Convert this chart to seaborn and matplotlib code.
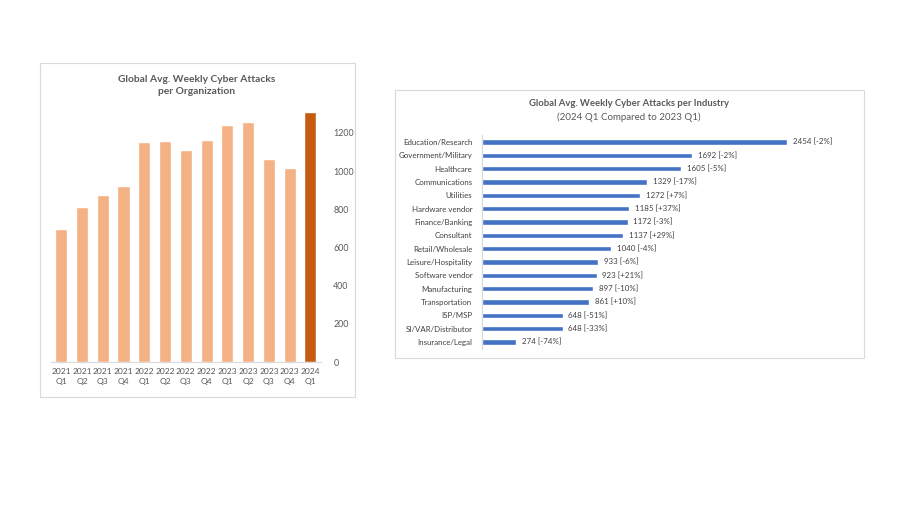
import matplotlib
matplotlib.use("Agg")
import matplotlib.pyplot as plt
from matplotlib.patches import Rectangle
import seaborn as sns
import pandas as pd

# left chart: avg weekly attacks per organization
quarters = ["2021\nQ1", "2021\nQ2", "2021\nQ3", "2021\nQ4", "2022\nQ1", "2022\nQ2", "2022\nQ3",
            "2022\nQ4", "2023\nQ1", "2023\nQ2", "2023\nQ3", "2023\nQ4", "2024\nQ1"]
org_attacks = [697, 811, 877, 924, 1153, 1157, 1110, 1164, 1242, 1255, 1066, 1014, 1308]
org_ticks = [0, 200, 400, 600, 800, 1000, 1200]

# right chart: per industry
industries = ["Education/Research", "Government/Military", "Healthcare", "Communications", "Utilities",
              "Hardware vendor", "Finance/Banking", "Consultant", "Retail/Wholesale", "Leisure/Hospitality",
              "Software vendor", "Manufacturing", "Transportation", "ISP/MSP", "SI/VAR/Distributor",
              "Insurance/Legal"]
ind_attacks = [2454, 1692, 1605, 1329, 1272, 1185, 1172, 1137, 1040, 933, 923, 897, 861, 648, 648, 274]
ind_change = ["-2%", "-2%", "-5%", "-17%", "+7%", "+37%", "-3%", "+29%", "-4%", "-6%", "+21%",
              "-10%", "+10%", "-51%", "-33%", "-74%"]

sns.set_theme(style="white")
plt.rcParams["font.family"] = ["Lato", "DejaVu Sans"]
grey = "#595959"

fig = plt.figure(figsize=(9.05, 5.09), dpi=100)
fig.patch.set_facecolor("white")

# panel frames
for (x0, y0, w, h) in [(40, 63, 315, 334), (395, 90, 469, 268)]:
    fig.patches.append(Rectangle((x0 / 905, 1 - (y0 + h) / 509), w / 905, h / 509,
                                 transform=fig.transFigure, fill=False, edgecolor="#d9d9d9", lw=0.8))

# ---- left chart
ax1 = fig.add_axes([50.8 / 905, (509 - 362) / 509, 270 / 905, 250 / 509])
df1 = pd.DataFrame({"quarter": quarters, "attacks": org_attacks})
pal = ["#F4B183"] * (len(quarters) - 1) + ["#C55A11"]
sns.barplot(data=df1, x="quarter", y="attacks", hue="quarter", palette=pal, legend=False,
            width=0.58, saturation=1, ax=ax1)
ax1.set_ylim(0, 1310)
ax1.yaxis.tick_right()
ax1.set_yticks(org_ticks)
ax1.tick_params(axis="y", labelsize=6.4, colors=grey, length=0, pad=9)
ax1.tick_params(axis="x", labelsize=6.1, colors=grey, length=0, pad=4)
for t in ax1.get_xticklabels():
    t.set_linespacing(1.5)
ax1.set_xlabel("")
ax1.set_ylabel("")
for s in ["top", "left", "right"]:
    ax1.spines[s].set_visible(False)
ax1.spines["bottom"].set_color("#d9d9d9")
ax1.spines["bottom"].set_linewidth(0.8)
fig.text(197 / 905, 1 - 85.5 / 509, "Global Avg. Weekly Cyber Attacks\nper Organization",
         ha="center", va="center", fontsize=7.4, fontweight="bold", color=grey, linespacing=1.45)

# ---- right chart
ax2 = fig.add_axes([482 / 905, (509 - 348.7) / 509, 368 / 905, 213.4 / 509])
df2 = pd.DataFrame({"industry": industries, "attacks": ind_attacks})
sns.barplot(data=df2, y="industry", x="attacks", orient="h", color="#4472C4", width=0.4,
            saturation=1, ax=ax2)
ax2.set_xlim(0, 2961)
ax2.set_xticks([])
ax2.set_xlabel("")
ax2.set_ylabel("")
ax2.tick_params(axis="y", labelsize=5.7, colors="#404040", length=0, pad=7)
for s in ["top", "bottom", "right"]:
    ax2.spines[s].set_visible(False)
ax2.spines["left"].set_color("#d9d9d9")
ax2.spines["left"].set_linewidth(0.8)
for i, (v, c) in enumerate(zip(ind_attacks, ind_change)):
    ax2.text(v + 45, i, f"{v} [{c}]", va="center", ha="left", fontsize=5.7, color="#404040")

fig.text(629 / 905, 1 - 103 / 509, "Global Avg. Weekly Cyber Attacks per Industry",
         ha="center", va="center", fontsize=6.8, fontweight="bold", color=grey)
fig.text(629 / 905, 1 - 117 / 509, "(2024 Q1 Compared to 2023 Q1)",
         ha="center", va="center", fontsize=7, color=grey)

fig.savefig("out.png", dpi=100, facecolor="white")
